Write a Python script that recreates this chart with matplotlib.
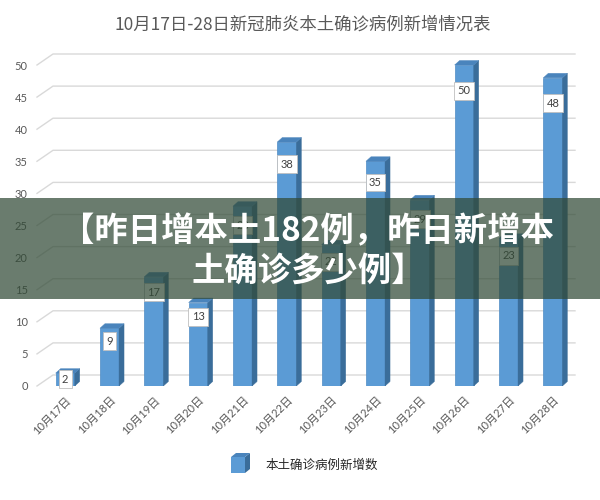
import matplotlib
matplotlib.use('Agg')
import matplotlib.pyplot as plt
from matplotlib.patches import Polygon, Rectangle

plt.rcParams['font.family'] = ['Lato', 'Noto Sans CJK SC', 'DejaVu Sans']

# datos
dias = ['10月17日', '10月18日', '10月19日', '10月20日', '10月21日', '10月22日',
        '10月23日', '10月24日', '10月25日', '10月26日', '10月27日', '10月28日']
casos = [2, 9, 17, 13, 28, 38, 22, 35, 29, 50, 23, 48]
ticks_y = [0, 5, 10, 15, 20, 25, 30, 35, 40, 45, 50]
titulo = '10月17日-28日新冠肺炎本土确诊病例新增情况表'
serie = '本土确诊病例新增数'
banner = '【昨日增本土182例，昨日新增本\n土确诊多少例】'

azul = '#5B9BD5'
lado = '#3A6D9A'
tapa = '#4A84BC'
gris = '#595959'

fig = plt.figure(figsize=(6, 5), dpi=100)
# eje: x=-0.5 en 43px, x=11.5 en 575px ; y=0 en 386px, 1 unidad = 6.42px
ax = fig.add_axes([43/600, (500-386)/500, 532/600, 52*6.42/500])
ax.set_xlim(-0.5, 11.5)
ax.set_ylim(0, 52)

pxx = 1/44.33   # px -> unidades x
pxy = 1/6.42    # px -> unidades y

# lineas de la pared de fondo (perspectiva)
for t in ticks_y:
    ax.plot([-0.5 - 6*pxx, -0.5 + 10*pxx, 11.5],
            [t, t + 11*pxy, t + 11*pxy],
            color='#D9D9D9', lw=1, zorder=0, clip_on=False)

# barras 3D
ancho = 0.43
dx = 5*pxx
dy = 4.5*pxy
x = list(range(len(casos)))
ax.bar(x, casos, width=ancho, color=azul, edgecolor='#4F8CC4', lw=0.5, zorder=2)
for i, v in zip(x, casos):
    r = i + ancho/2
    l = i - ancho/2
    ax.add_patch(Polygon([(r, 0), (r + dx, dy), (r + dx, v + dy), (r, v)],
                         closed=True, facecolor=lado, edgecolor=lado, lw=0.3, zorder=2))
    ax.add_patch(Polygon([(l, v), (l + dx, v + dy), (r + dx, v + dy), (r, v)],
                         closed=True, facecolor=tapa, edgecolor=tapa, lw=0.3, zorder=2))
    off = min(10 + 0.32*v, v/pxy/2 - 0.5)
    ax.annotate(str(v), xy=(i, v), xytext=(0, -off*0.72), textcoords='offset points',
                ha='center', va='center', fontsize=8, color='#404040', zorder=4,
                bbox=dict(boxstyle='square,pad=0.3', fc='white', ec='#BFBFBF', lw=0.6))

for s in ax.spines.values():
    s.set_visible(False)
ax.set_yticks(ticks_y)
ax.set_yticklabels([str(t) for t in ticks_y], fontsize=8, color=gris)
ax.set_xticks(x)
ax.set_xticklabels(dias, fontsize=8, color=gris, rotation=45, ha='right',
                   va='top', rotation_mode='anchor')
ax.tick_params(axis='y', length=0, pad=11)
ax.tick_params(axis='x', length=0, pad=6)
ax.set_facecolor('none')

fig.text(0.505, 1 - 25/500, titulo, ha='center', va='center', fontsize=12.5,
         color=gris, family=['Noto Sans CJK SC', 'DejaVu Sans'])

# leyenda (icono 3D + texto)
fx = lambda p: p/600
fy = lambda p: 1 - p/500
fig.add_artist(Rectangle((fx(231), fy(473)), fx(14), 16/500, facecolor=azul,
                         edgecolor='none', transform=fig.transFigure))
fig.add_artist(Polygon([(fx(245), fy(473)), (fx(250), fy(469)), (fx(250), fy(453)),
                        (fx(245), fy(457))], closed=True, facecolor=lado,
                       edgecolor='none', transform=fig.transFigure))
fig.add_artist(Polygon([(fx(231), fy(457)), (fx(236), fy(453)), (fx(250), fy(453)),
                        (fx(245), fy(457))], closed=True, facecolor=tapa,
                       edgecolor='none', transform=fig.transFigure))
fig.text(fx(265), fy(465), serie, ha='left', va='center', fontsize=9,
         color='#262626', family=['Noto Sans CJK SC', 'DejaVu Sans'])

# franja superpuesta
fig.add_artist(Rectangle((0, fy(299)), 1, 101/500, facecolor=(49/255, 74/255, 54/255),
                         alpha=0.72, edgecolor='none', transform=fig.transFigure, zorder=5))
fig.text(0.513, fy(251), banner, ha='center', va='center', fontsize=24,
         fontweight='heavy', color='white', linespacing=1.25, zorder=6,
         family=['Noto Sans CJK SC', 'DejaVu Sans'])

fig.savefig('out.png', dpi=100)
